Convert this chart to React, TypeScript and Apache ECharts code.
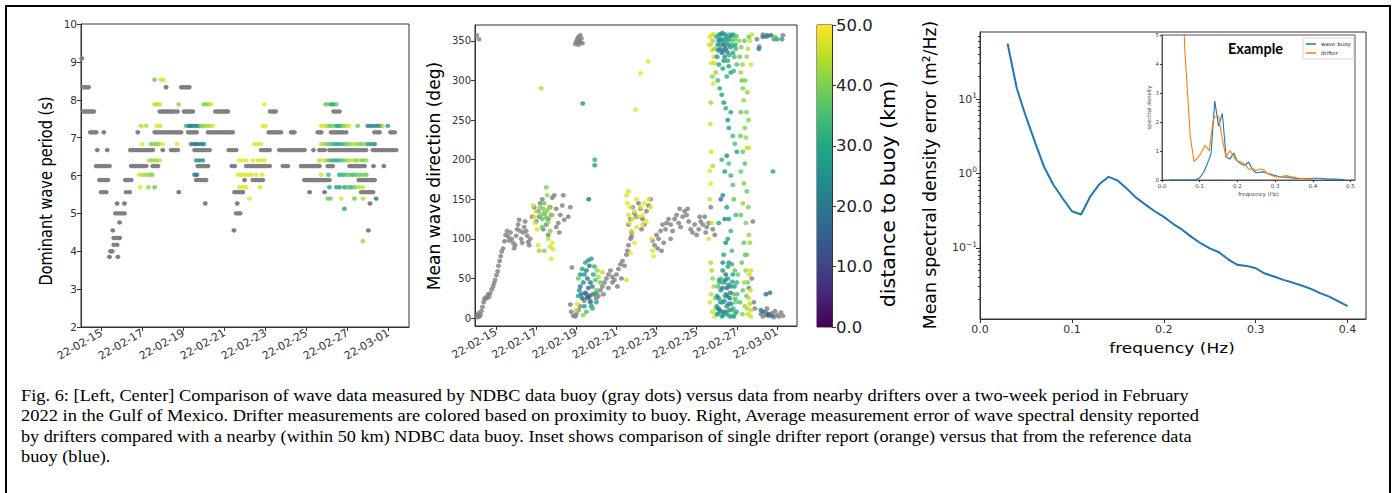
import React, { useEffect, useRef } from 'react';
import * as echarts from 'echarts';

// ---------- axis tick values / labels ----------
// time axis coordinate = days since 2022-02-13 (data arrays below are in days since 2022-02-15)
const DAY_SHIFT = 2;
const tickDays = [2, 4, 6, 8, 10, 12, 14, 16];
const dateLabels = ['22-02-15', '22-02-17', '22-02-19', '22-02-21', '22-02-23', '22-02-25', '22-02-27', '22-03-01'];
const dirTicks = [0, 50, 100, 150, 200, 250, 300, 350];
const freqTicks = [0, 0.1, 0.2, 0.3, 0.4];
const logMajorTicks = [0.1, 1, 10];
const logMinorTicks = [0.02, 0.03, 0.04, 0.05, 0.06, 0.07, 0.08, 0.09, 0.2, 0.3, 0.4, 0.5, 0.6, 0.7, 0.8, 0.9, 2, 3, 4, 5, 6, 7, 8, 9, 20, 30, 40, 50, 60, 70];
const insetFreqTicks = [0, 0.1, 0.2, 0.3, 0.4, 0.5];
const viridis = ['#440154', '#482475', '#414487', '#355f8d', '#2a788e', '#21918c', '#22a884', '#44bf70', '#7ad151', '#bddf26', '#fde725'];

// ---------- left panel: dominant wave period ----------
// buoy rows: [period (s), days since Feb 15]
const buoyPeriodRows: [number, number[]][] = [
  [9.09, [-0.96]],
  [8.33, [-0.92, -0.82, -0.72, -0.64, 3.15, 3.9, 4.0, 4.1, 4.2, 4.28]],
  [7.69, [-0.88, -0.78, -0.68, -0.58, -0.48, -0.38, 2.85, 2.95, 3.05, 3.15, 3.25, 3.35, 3.45, 3.55, 3.7, 4.03, 4.13, 4.23, 4.33, 4.45, 5.56, 5.66, 5.76, 5.86, 5.96, 6.06, 6.16, 8.23, 8.36, 8.49, 11.33, 11.45, 11.6]],
  [7.14, [-0.55, -0.45, -0.35, -0.26, 0.11, 1.77, 2.6, 2.7, 2.8, 2.9, 3.0, 3.1, 3.2, 3.3, 3.4, 3.5, 3.6, 3.7, 3.8, 3.88, 4.23, 4.33, 4.43, 4.53, 4.64, 5.2, 5.3, 5.4, 5.5, 5.6, 5.7, 5.8, 5.9, 6.0, 6.1, 6.2, 6.3, 6.4, 8.16, 8.26, 8.36, 8.46, 8.56, 8.66, 8.76, 9.25, 9.33, 9.41, 10.55, 10.65, 10.72, 11.2, 11.3, 11.4, 11.5, 11.6, 11.7, 11.8, 11.93, 13.32, 13.45, 13.56, 14.1, 14.2, 14.3]],
  [6.67, [-0.21, 0.28, 1.41, 1.5, 1.6, 1.7, 1.8, 1.9, 2.0, 2.1, 2.2, 2.3, 2.4, 2.5, 2.99, 3.4, 3.5, 3.6, 3.72, 4.54, 4.64, 4.74, 4.84, 4.94, 5.04, 5.14, 5.27, 6.21, 6.33, 6.45, 6.57, 7.79, 7.9, 8.0, 8.1, 8.2, 8.68, 8.78, 8.88, 8.98, 9.08, 9.18, 9.28, 9.38, 9.48, 9.58, 9.68, 9.78, 9.9, 10.34, 10.63, 10.75, 10.88, 11.12, 11.22, 11.32, 11.42, 11.52, 11.62, 11.72, 11.82, 11.92, 12.02, 12.12, 12.22, 12.32, 12.42, 12.52, 12.62, 12.72, 12.82, 12.9, 13.24, 13.34, 13.44, 13.54, 13.64, 13.74, 13.84, 13.94, 14.04, 14.14, 14.24, 14.37]],
  [6.25, [-0.26, -0.16, -0.06, 0.04, 0.14, 0.24, 0.39, 1.45, 1.55, 1.65, 1.75, 1.85, 1.95, 2.05, 2.18, 2.5, 2.62, 2.75, 4.7, 4.8, 4.9, 5.0, 5.1, 5.19, 6.36, 6.5, 7.06, 7.16, 7.26, 7.36, 7.46, 7.56, 7.66, 7.76, 7.86, 7.96, 8.06, 8.2, 8.85, 8.97, 9.09, 9.74, 9.84, 9.94, 10.04, 10.14, 10.24, 10.34, 10.44, 10.54, 10.63, 11.04, 11.16, 11.28, 12.1, 12.2, 12.3, 12.4, 12.5, 12.6, 12.7, 12.83, 13.27, 13.77]],
  [5.88, [-0.1, 0.0, 0.1, 0.2, 0.31, 1.17, 1.3, 1.45, 4.62, 4.74, 4.86, 4.98, 5.1, 6.98, 7.38, 7.5, 7.62, 7.74, 7.87, 9.9, 10.0, 10.1, 10.2, 10.3, 10.4, 10.5, 10.6, 10.7, 10.8, 10.9, 11.0, 11.12, 12.55, 12.65, 12.75, 12.85, 12.95, 13.05, 13.15, 13.24, 13.32]],
  [5.56, [-0.02, 0.1, 0.23, 1.2, 1.37, 3.77, 6.49, 6.6, 6.72, 6.82, 6.89, 10.15, 10.88, 12.67, 12.8, 12.92, 13.04, 13.14, 13.24]],
  [5.26, [0.76, 1.12, 5.06, 6.62, 13.1]],
  [5.0, [0.68, 0.8, 0.9, 1.0, 1.12, 6.57, 6.67, 6.76]],
  [4.76, [0.88]],
  [4.55, [0.55, 6.46, 13.02]],
  [4.35, [0.6, 0.72, 0.88]],
  [4.17, [0.6, 0.76]],
  [4.0, [0.44, 0.52]],
  [3.85, [0.39, 0.8]],
];

// drifter rows: [period (s), [day since Feb 15, distance km][]]
const drifterPeriodRows: [number, [number, number][]][] = [
  [8.53, [[2.59, 38], [2.91, 47], [3.02, 47]]],
  [7.88, [[2.59, 45], [2.7, 45], [2.83, 45], [3.76, 42], [4.98, 40], [5.11, 40], [5.24, 42], [5.35, 48], [7.95, 48], [10.93, 38], [11.04, 40], [11.2, 28], [11.33, 30], [11.45, 38]]],
  [7.31, [[1.93, 44], [2.18, 44], [2.7, 47], [2.86, 47], [4.13, 35], [4.26, 22], [4.37, 20], [4.49, 24], [4.62, 22], [4.75, 25], [4.86, 42], [4.98, 40], [5.11, 44], [5.27, 42], [5.43, 47], [7.87, 48], [8.0, 48], [10.72, 47], [10.88, 47], [11.04, 42], [11.17, 38], [11.28, 40], [11.45, 30], [11.58, 28], [11.69, 35], [11.82, 40], [11.93, 44], [12.07, 47], [12.5, 38], [12.99, 22], [13.15, 20], [13.32, 22], [13.48, 20], [13.64, 24], [13.72, 47], [13.97, 28]]],
  [6.83, [[1.97, 48], [2.42, 40], [2.55, 42], [2.67, 40], [2.8, 42], [2.99, 48], [3.69, 48], [4.37, 22], [4.5, 20], [4.62, 18], [4.75, 22], [4.88, 24], [4.99, 22], [7.46, 47], [7.63, 47], [7.79, 48], [10.72, 45], [10.88, 42], [11.04, 38], [11.2, 35], [11.37, 30], [11.53, 28], [11.69, 30], [11.85, 35], [12.02, 38], [12.18, 42], [12.34, 45], [12.5, 40], [12.67, 38], [12.83, 42], [12.99, 30], [13.15, 25], [13.32, 22]]],
  [6.4, [[2.34, 42], [2.5, 42], [2.67, 42], [2.83, 44], [4.62, 25], [4.78, 22], [4.94, 25], [6.73, 48], [6.89, 48], [7.06, 48], [7.38, 48], [7.63, 48], [7.79, 48], [7.95, 48], [10.63, 45], [10.8, 47], [10.96, 42], [11.12, 35], [11.28, 30], [11.45, 28], [11.61, 32], [11.77, 36], [11.93, 40], [12.1, 44], [12.26, 46], [12.42, 40], [12.59, 44], [12.75, 38], [12.91, 42]]],
  [6.02, [[1.85, 46], [2.02, 44], [2.18, 42], [2.34, 42], [2.47, 40], [4.54, 20], [4.65, 18], [6.65, 48], [6.81, 48], [6.98, 48], [7.14, 48], [7.3, 47], [7.54, 48], [7.84, 48], [10.72, 47], [11.07, 35], [11.61, 30], [11.77, 32], [11.93, 35], [12.1, 38], [12.26, 33], [12.42, 36], [12.59, 38], [12.75, 40], [12.91, 38]]],
  [5.69, [[1.89, 48], [2.29, 42], [2.59, 38], [6.73, 48], [6.89, 48], [7.06, 48], [7.74, 48], [11.12, 30], [11.45, 32], [11.61, 28], [11.85, 30], [12.02, 36], [12.18, 32], [12.34, 38], [12.55, 44], [12.75, 46]]],
  [5.39, [[7.22, 48], [11.04, 38], [11.17, 38], [11.69, 48], [12.34, 38], [12.75, 44], [13.4, 18]]],
  [5.12, [[11.85, 28]]],
  [4.27, [[12.75, 43]]],
];

// ---------- center panel: mean wave direction ----------
// buoy points: [day since Feb 15, deg]
const buoyDirPts: [number, number][] = [
  [-0.97, 357], [-0.85, 352],
  [-0.97, 3], [-0.92, 1], [-0.88, 6], [-0.83, 2], [-0.78, 4], [-0.73, 9], [-0.68, 14], [-0.62, 20], [-0.58, 24], [-0.52, 26], [-0.45, 25], [-0.4, 30], [-0.35, 27], [-0.3, 31], [-0.22, 36], [-0.15, 40], [-0.1, 44], [-0.05, 48], [0.02, 54], [0.08, 59], [0.12, 66], [0.18, 72], [0.23, 78], [0.28, 84], [0.35, 88], [0.42, 97], [0.48, 105], [0.55, 110], [0.6, 103], [0.65, 98], [0.72, 108], [0.78, 100], [0.85, 95], [0.9, 88], [0.95, 92], [1.0, 104], [1.05, 112], [1.1, 118], [1.15, 124], [1.2, 110], [1.25, 100], [1.3, 95], [1.35, 108], [1.4, 115], [1.45, 122], [1.5, 110], [1.55, 104], [1.6, 96], [1.65, 92], [1.7, 100],
  [1.8, 128], [1.9, 140], [2.0, 122], [2.1, 135], [2.2, 145], [2.3, 150], [2.4, 132], [2.5, 118], [2.6, 125], [2.7, 140], [2.8, 152], [2.9, 155], [3.0, 138], [3.1, 120], [3.15, 108], [3.2, 130], [3.3, 142], [3.4, 124], [2.35, 112], [2.6, 105], [3.0, 115], [2.15, 128], [2.75, 130], [3.35, 155], [3.6, 128], [3.7, 140], [3.78, 64],
  [3.95, 346], [4.0, 349], [4.05, 352], [4.1, 355], [4.15, 350], [4.2, 357], [4.25, 353], [4.3, 347], [4.1, 345], [4.2, 348],
  [3.7, 17], [3.75, 8], [3.85, 3], [3.95, 2], [4.0, 5], [4.1, 10], [4.2, 15], [4.4, 22], [4.6, 26], [4.8, 30], [5.0, 32], [5.1, 28], [5.2, 35], [5.3, 40], [5.4, 45], [5.5, 50], [5.6, 55], [5.7, 60], [5.8, 52], [5.9, 48], [6.0, 55], [6.1, 62], [6.2, 68], [6.3, 72], [6.4, 66], [6.5, 80], [6.55, 85], [6.6, 92], [6.7, 100], [6.75, 108], [4.5, 30], [4.7, 22], [5.0, 25], [5.35, 30], [5.6, 38], [5.8, 45], [6.05, 40], [6.25, 50],
  [6.6, 118], [6.7, 125], [6.8, 140], [6.9, 132], [7.0, 128], [7.1, 145], [7.2, 138], [7.3, 125], [7.4, 118], [7.5, 135], [7.6, 142], [7.7, 150], [6.75, 103], [7.25, 112],
  [7.8, 98], [7.9, 92], [8.0, 105], [8.1, 100], [8.2, 110], [8.3, 118], [8.35, 95], [8.45, 112], [8.5, 120], [8.6, 125], [8.7, 118], [8.8, 110], [8.9, 125], [9.0, 130], [9.1, 120], [9.2, 115], [9.3, 128], [9.4, 135], [9.5, 130], [9.6, 122], [9.7, 112], [9.8, 108], [9.9, 118], [10.0, 105], [10.1, 112], [10.2, 122], [10.3, 118], [10.4, 128], [10.5, 115], [10.6, 120], [10.7, 140], [10.8, 112], [10.9, 105], [8.05, 88], [8.25, 85], [8.7, 100], [9.15, 138], [9.55, 138], [10.15, 128], [10.45, 108],
  [13.0, 352], [13.3, 358], [13.5, 355], [13.85, 352], [14.3, 357], [13.12, 343],
  [13.2, 5], [13.3, 2], [13.45, 8], [13.6, 3], [13.75, 6], [13.85, 1], [14.0, 4], [14.1, 2], [14.2, 7], [14.3, 3], [13.5, 12], [13.9, 9],
  [12.8, 122], [12.75, 50], [12.6, 38], [12.85, 20], [12.9, 12],
];

// drifter points: [day since Feb 15, deg, distance km]
const drifterDirPts: [number, number, number][] = [
  [1.85, 142, 47], [1.9, 128, 47], [1.95, 120, 47], [2.0, 135, 45], [2.05, 112, 47], [2.1, 92, 47], [2.15, 85, 42], [2.2, 140, 40], [2.25, 130, 40], [2.3, 125, 38], [2.35, 138, 40], [2.4, 145, 38], [2.45, 132, 42], [2.5, 127, 38], [2.55, 136, 40], [2.6, 121, 42], [2.65, 140, 42], [2.7, 110, 40], [2.5, 165, 40], [2.55, 155, 42], [2.6, 100, 45], [2.7, 90, 47], [2.8, 95, 48], [2.85, 87, 47], [2.75, 75, 48], [2.8, 130, 42], [2.4, 85, 40], [2.3, 115, 38], [2.25, 290, 44],
  [4.0, 10, 44], [4.05, 18, 47], [4.1, 28, 30], [4.15, 35, 25], [4.2, 40, 22], [4.25, 30, 20], [4.3, 25, 18], [4.35, 45, 24], [4.4, 55, 26], [4.45, 70, 28], [4.5, 60, 22], [4.55, 50, 20], [4.6, 38, 18], [4.65, 28, 17], [4.7, 20, 22], [4.75, 15, 28], [4.8, 40, 24], [4.85, 55, 30], [4.9, 65, 32], [4.95, 48, 36], [5.0, 35, 38], [5.05, 60, 42], [5.1, 52, 44], [5.2, 45, 38], [5.3, 58, 45], [4.4, 15, 30], [4.5, 8, 35], [4.6, 73, 26], [4.75, 75, 30], [4.2, 55, 25], [4.3, 62, 28], [4.45, 32, 16], [4.55, 26, 15], [4.7, 45, 19], [4.9, 30, 28], [5.0, 20, 30], [4.1, 50, 38], [4.35, 4, 42], [4.8, 12, 33], [4.65, 66, 21],
  [4.32, 271, 26], [4.92, 200, 32], [4.92, 193, 28], [4.62, 150, 20],
  [6.5, 155, 48], [6.55, 145, 48], [6.6, 130, 47], [6.65, 120, 48], [6.7, 140, 48], [6.75, 110, 47], [6.8, 125, 48], [6.9, 135, 48], [7.0, 115, 48], [7.1, 128, 47], [7.2, 140, 48], [7.3, 130, 48], [7.4, 145, 47], [7.5, 122, 48], [7.6, 150, 48], [7.7, 140, 47], [7.75, 100, 48], [7.8, 85, 47], [7.85, 78, 48], [6.7, 82, 48], [6.5, 48, 47], [6.9, 95, 48], [7.3, 118, 48], [6.6, 160, 47], [7.0, 150, 48],
  [6.95, 263, 48], [7.2, 309, 48], [7.58, 324, 48],
  [10.65, 355, 47], [10.7, 345, 45], [10.75, 338, 47], [10.8, 350, 42], [10.85, 330, 47], [10.72, 322, 48], [10.78, 305, 42], [10.82, 296, 47], [10.7, 272, 42], [10.68, 245, 47], [10.72, 210, 47], [10.8, 192, 44], [10.65, 186, 48], [10.7, 170, 48], [10.75, 120, 47], [10.7, 70, 44], [10.75, 60, 44], [10.8, 50, 42], [10.72, 30, 45], [10.9, 2, 47], [10.95, 12, 42], [10.85, 358, 44], [10.9, 340, 40], [10.95, 310, 42], [10.92, 25, 40], [11.0, 5, 38],
  [10.62, 345, 47], [10.78, 358, 48], [10.88, 322, 46], [10.66, 20, 47], [10.78, 8, 46], [10.85, 40, 44], [10.6, 100, 47], [10.65, 150, 46],
  [11.0, 355, 30], [11.05, 345, 25], [11.1, 350, 20], [11.15, 340, 28], [11.2, 358, 22], [11.25, 335, 18], [11.3, 348, 30], [11.35, 352, 25], [11.4, 330, 26], [11.45, 340, 20], [11.5, 355, 28], [11.55, 325, 32], [11.6, 345, 24], [11.65, 358, 35], [11.1, 320, 28], [11.3, 315, 30], [11.75, 350, 36], [11.8, 335, 30], [11.9, 352, 38], [11.95, 340, 33], [12.0, 320, 36], [11.7, 310, 28], [11.5, 305, 32],
  [11.02, 330, 26], [11.08, 338, 22], [11.12, 358, 30], [11.18, 352, 24], [11.22, 345, 28], [11.28, 360, 26], [11.32, 338, 20], [11.38, 344, 16], [11.42, 358, 24], [11.48, 348, 30], [11.52, 336, 22], [11.58, 352, 26], [11.62, 332, 30], [11.68, 342, 28], [11.72, 356, 24], [11.78, 344, 32], [11.82, 358, 28], [11.88, 330, 34], [11.92, 345, 30], [11.98, 356, 36], [11.35, 325, 26], [11.6, 318, 30], [11.85, 312, 33],
  [11.05, 300, 35], [11.15, 290, 30], [11.25, 282, 28], [11.35, 272, 25], [11.45, 265, 32], [11.55, 250, 24], [11.6, 240, 28], [11.7, 260, 30], [11.8, 230, 34], [11.9, 220, 36], [12.0, 210, 30], [11.5, 205, 25], [11.6, 195, 35], [11.4, 185, 28], [11.7, 180, 33], [11.8, 168, 36], [11.3, 155, 24], [11.5, 140, 30], [11.6, 125, 27], [11.4, 125, 22], [11.7, 110, 33], [11.85, 150, 38], [11.95, 130, 34], [11.2, 150, 20], [11.55, 100, 28], [11.45, 95, 24], [11.35, 80, 30], [11.6, 70, 26], [11.75, 85, 35], [11.9, 60, 38], [11.1, 120, 30], [11.25, 200, 34],
  [11.0, 15, 30], [11.05, 5, 28], [11.1, 25, 24], [11.15, 10, 20], [11.2, 35, 26], [11.25, 2, 30], [11.3, 20, 22], [11.35, 45, 28], [11.4, 8, 18], [11.45, 30, 25], [11.5, 15, 24], [11.55, 50, 30], [11.6, 3, 32], [11.65, 25, 20], [11.7, 40, 27], [11.75, 10, 35], [11.8, 55, 30], [11.85, 30, 38], [11.9, 5, 36], [11.95, 20, 40], [12.0, 45, 33], [11.3, 60, 26], [11.5, 38, 17], [11.6, 18, 22], [11.4, 28, 35], [11.2, 50, 38], [11.7, 2, 30], [11.15, 45, 32], [11.05, 40, 36], [11.85, 2, 28], [11.45, 55, 20],
  [11.02, 28, 26], [11.08, 12, 22], [11.12, 48, 30], [11.18, 20, 28], [11.22, 8, 24], [11.28, 38, 20], [11.32, 4, 26], [11.38, 22, 30], [11.42, 48, 22], [11.48, 6, 26], [11.52, 28, 20], [11.58, 42, 24], [11.62, 10, 28], [11.68, 32, 22], [11.72, 18, 26], [11.78, 46, 30], [11.82, 12, 33], [11.88, 40, 28], [11.92, 24, 35], [11.98, 8, 30], [12.02, 30, 36], [12.05, 55, 38], [11.3, 70, 24], [11.55, 65, 28], [11.75, 68, 32],
  [12.1, 350, 40], [12.15, 330, 38], [12.2, 310, 42], [12.25, 300, 38], [12.3, 290, 40], [12.35, 275, 42], [12.2, 260, 38], [12.4, 240, 40], [12.45, 228, 42], [12.3, 210, 38], [12.5, 215, 46], [12.4, 195, 36], [12.2, 185, 38], [12.35, 170, 40], [12.5, 160, 38], [12.3, 145, 42], [12.2, 130, 38], [12.45, 120, 40], [12.6, 105, 42], [12.35, 95, 38], [12.5, 80, 40], [12.25, 70, 38], [12.45, 60, 42], [12.55, 45, 40], [12.3, 35, 38], [12.6, 25, 46], [12.4, 15, 42], [12.55, 5, 46], [12.7, 2, 46], [12.15, 20, 36], [12.65, 350, 46], [12.55, 340, 44], [12.6, 355, 38], [12.75, 358, 46], [12.7, 320, 46], [12.5, 330, 42], [12.65, 18, 44], [12.7, 10, 46], [12.6, 215, 46],
  [12.22, 342, 40], [12.28, 320, 42], [12.38, 350, 38], [12.42, 300, 40], [12.48, 260, 40], [12.52, 285, 42], [12.18, 230, 38], [12.58, 250, 40], [12.28, 5, 40], [12.38, 45, 42], [12.48, 28, 40], [12.52, 12, 44], [12.62, 55, 46], [12.68, 35, 46], [12.42, 80, 38], [12.58, 140, 40], [12.65, 95, 42], [12.7, 60, 46],
  [13.1, 340, 20], [13.3, 355, 18], [13.5, 357, 20], [13.7, 357, 16], [13.9, 355, 38], [14.0, 352, 30], [14.25, 352, 28], [13.45, 30, 18], [13.65, 32, 20], [13.3, 8, 18], [13.5, 4, 16], [13.6, 5, 18], [13.75, 3, 20], [13.2, 10, 22], [13.8, 185, 30],
];

// ---------- right panel: mean spectral density error ----------
const freqMain = [0.03, 0.04, 0.05, 0.06, 0.07, 0.08, 0.09, 0.1, 0.11, 0.12, 0.13, 0.14, 0.15, 0.16, 0.17, 0.18, 0.19, 0.2, 0.21, 0.22, 0.23, 0.24, 0.25, 0.26, 0.27, 0.28, 0.29, 0.3, 0.31, 0.32, 0.33, 0.34, 0.35, 0.36, 0.37, 0.38, 0.39, 0.4];
const errMain = [56, 14, 5.8, 2.6, 1.2, 0.7, 0.46, 0.31, 0.28, 0.49, 0.72, 0.9, 0.8, 0.62, 0.47, 0.38, 0.31, 0.26, 0.21, 0.175, 0.14, 0.115, 0.098, 0.087, 0.07, 0.059, 0.057, 0.053, 0.045, 0.041, 0.037, 0.034, 0.031, 0.028, 0.0245, 0.022, 0.019, 0.0164];

// ---------- inset: example spectra ----------
const insetFreqBuoy = [0.02, 0.03, 0.04, 0.05, 0.06, 0.07, 0.08, 0.09, 0.1, 0.11, 0.12, 0.13, 0.14, 0.15, 0.16, 0.17, 0.18, 0.19, 0.2, 0.21, 0.22, 0.23, 0.24, 0.25, 0.26, 0.27, 0.28, 0.29, 0.3, 0.31, 0.32, 0.33, 0.34, 0.35, 0.36, 0.37, 0.38, 0.39, 0.4, 0.42, 0.44, 0.46, 0.485];
const insetBuoy = [0, 0, 0, 0, 0, 0, 0, 0.01, 0.08, 0.25, 0.55, 0.9, 2.72, 1.85, 2.3, 0.8, 0.72, 0.93, 0.65, 0.55, 0.5, 0.62, 0.35, 0.25, 0.27, 0.28, 0.22, 0.2, 0.15, 0.12, 0.1, 0.1, 0.08, 0.06, 0.05, 0.05, 0.05, 0.05, 0.06, 0.06, 0.03, 0.03, 0.01];
const insetFreqDrifter = [0.05, 0.06, 0.075, 0.085, 0.1, 0.115, 0.125, 0.135, 0.14, 0.15, 0.16, 0.17, 0.18, 0.19, 0.2, 0.21, 0.22, 0.23, 0.24, 0.25, 0.26, 0.27, 0.28, 0.29, 0.3, 0.31, 0.32, 0.33, 0.34, 0.35, 0.36, 0.38, 0.4];
const insetDrifter = [9, 4.6, 1.5, 0.63, 0.85, 1.2, 1.0, 2.0, 2.2, 2.2, 1.4, 0.78, 1.02, 0.8, 0.65, 0.62, 0.55, 0.36, 0.4, 0.33, 0.38, 0.35, 0.22, 0.16, 0.12, 0.1, 0.13, 0.15, 0.12, 0.1, 0.07, 0.04, 0.02];

// ---------- caption ----------
const captionLines = [
  'Fig. 6: [Left, Center] Comparison of wave data measured by NDBC data buoy (gray dots) versus data from nearby drifters over a two-week period in February',
  '2022 in the Gulf of Mexico. Drifter measurements are colored based on proximity to buoy. Right, Average measurement error of wave spectral density reported',
  'by drifters compared with a nearby (within 50 km) NDBC data buoy. Inset shows comparison of single drifter report (orange) versus that from the reference data',
  'buoy (blue).',
];
const captionRightEdge = [1188, 1200, 1192, 0]; // 0 = not justified

const FONT = 'DejaVu Sans';
const AX = '#333';
const CAP_FONT_SIZE = 18.3;
const CAP_FONT = 'Liberation Serif';

function dateFmt(v: number) {
  const i = tickDays.indexOf(Math.round(v));
  return i >= 0 ? dateLabels[i] : '';
}

function supFmt(v: number) {
  const e = Math.round(Math.log10(v));
  const s = e < 0 ? '\u2212' + String(-e) : String(e);
  return '{b|10}{s|' + s + '}';
}

function measureText(t: string, size: number, family: string) {
  const ctx = document.createElement('canvas').getContext('2d');
  if (!ctx) return 0;
  ctx.font = `${size}px "${family}"`;
  return ctx.measureText(t).width;
}

function buildOption() {
  const buoyPeriodData: number[][] = [];
  buoyPeriodRows.forEach(([p, days]) => days.forEach((d) => buoyPeriodData.push([d + DAY_SHIFT, p])));
  const drifterPeriodData: number[][] = [];
  drifterPeriodRows.forEach(([p, pts]) => pts.forEach(([d, km]) => drifterPeriodData.push([d + DAY_SHIFT, p, km])));
  const buoyDirData = buoyDirPts.map(([d, a]) => [d + DAY_SHIFT, a]);
  const drifterDirData = drifterDirPts.map(([d, a, km]) => [d + DAY_SHIFT, a, km]);

  const gradient = new echarts.graphic.LinearGradient(0, 1, 0, 0,
    viridis.map((c, i) => ({ offset: i / (viridis.length - 1), color: c })));

  const gridBase = { show: true, borderColor: AX, borderWidth: 1, backgroundColor: 'transparent', containLabel: false, outerBoundsMode: 'none' };

  const tick = (vals: number[] | null, len = 4) => ({
    show: true, length: len, lineStyle: { color: AX, width: 1 }, ...(vals ? { customValues: vals } : {}),
  });
  const axLine = () => ({ show: true, onZero: false, lineStyle: { color: AX, width: 1 } });

  const dateAxis = (grid: number, min: number, max: number) => ({
    type: 'value', gridIndex: grid, min, max,
    axisLine: axLine(), splitLine: { show: false },
    axisTick: tick(tickDays),
    axisLabel: { customValues: tickDays, rotate: 30, fontSize: 11, color: AX, margin: 5, fontFamily: FONT, formatter: dateFmt },
  });

  const captionGraphics = captionLines.map((t, i) => {
    let sx = 1;
    if (captionRightEdge[i] > 0) {
      const w = measureText(t, CAP_FONT_SIZE, CAP_FONT);
      if (w > 0) sx = (captionRightEdge[i] - 21) / w;
      if (sx > 1.12 || sx < 0.88) sx = 1;
    }
    return {
      type: 'text', x: 21, y: 395 + i * 20.5, scaleX: sx, scaleY: 0.92,
      style: { text: t, fontSize: CAP_FONT_SIZE, fontFamily: CAP_FONT, fill: '#000', align: 'left', verticalAlign: 'middle' },
    };
  });

  return {
    animation: false,
    backgroundColor: '#fff',
    textStyle: { fontFamily: FONT },
    grid: [
      { ...gridBase, left: 81, top: 24, width: 328, height: 303 },
      { ...gridBase, left: 475, top: 25, width: 322, height: 301 },
      { ...gridBase, left: 817, top: 25, width: 15, height: 302 },
      { ...gridBase, left: 980, top: 32, width: 386, height: 287 },
      { ...gridBase, left: 1162, top: 35, width: 193, height: 145, borderColor: '#555', backgroundColor: '#fff' },
    ],
    xAxis: [
      dateAxis(0, 1, 17),
      dateAxis(1, 0.95, 17),
      { type: 'category', gridIndex: 2, data: ['c'], show: false },
      {
        type: 'value', gridIndex: 3, min: 0, max: 0.42,
        axisLine: axLine(), splitLine: { show: false },
        axisTick: tick(freqTicks),
        axisLabel: { customValues: freqTicks, fontSize: 11, color: AX, margin: 5, formatter: (v: number) => v.toFixed(1) },
      },
      {
        type: 'value', gridIndex: 4, min: 0, max: 0.512,
        axisLine: { ...axLine(), lineStyle: { color: '#555', width: 1 } }, splitLine: { show: false },
        axisTick: tick(insetFreqTicks, 2),
        axisLabel: { customValues: insetFreqTicks, fontSize: 5.5, color: '#444', margin: 3, formatter: (v: number) => v.toFixed(1) },
        name: 'frequency (Hz)', nameLocation: 'middle', nameGap: 11, nameTextStyle: { fontSize: 5.5, color: '#444' },
      },
    ],
    yAxis: [
      {
        type: 'value', gridIndex: 0, min: 2, max: 10, interval: 1,
        axisLine: axLine(), splitLine: { show: false },
        axisTick: tick(null),
        axisLabel: { fontSize: 10.5, color: AX, margin: 4 },
      },
      {
        type: 'value', gridIndex: 1, min: -10, max: 370,
        axisLine: axLine(), splitLine: { show: false },
        axisTick: tick(dirTicks),
        axisLabel: { customValues: dirTicks, fontSize: 10, color: AX, margin: 4 },
      },
      {
        type: 'value', gridIndex: 2, min: 0, max: 50, interval: 10, position: 'right',
        axisLine: axLine(), splitLine: { show: false },
        axisTick: tick(null, 4),
        axisLabel: { fontSize: 16.5, color: '#222', margin: 4, formatter: (v: number) => v.toFixed(1) },
      },
      {
        type: 'log', gridIndex: 3, min: 0.011, max: 80, position: 'left',
        axisLine: axLine(), splitLine: { show: false },
        axisTick: tick(logMajorTicks, 4),
        axisLabel: {
          customValues: logMajorTicks, color: AX, margin: 3, formatter: supFmt,
          rich: { b: { fontSize: 11, color: AX }, s: { fontSize: 7.5, color: AX, padding: [0, 0, 7, 0] } },
        },
      },
      {
        type: 'log', gridIndex: 3, min: 0.011, max: 80, position: 'left',
        axisLine: { show: false, onZero: false }, splitLine: { show: false },
        axisTick: tick(logMinorTicks, 2),
        axisLabel: { show: false },
      },
      {
        type: 'value', gridIndex: 4, min: 0, max: 5, interval: 1,
        axisLine: { ...axLine(), lineStyle: { color: '#555', width: 1 } }, splitLine: { show: false },
        axisTick: tick(null, 2),
        axisLabel: { fontSize: 5.5, color: '#444', margin: 3 },
        name: 'spectral density', nameLocation: 'middle', nameGap: 9, nameTextStyle: { fontSize: 5.5, color: '#444' },
      },
    ],
    visualMap: {
      type: 'continuous', show: false, min: 0, max: 50, dimension: 2, seriesIndex: [1, 3],
      inRange: { color: viridis },
    },
    legend: {
      data: ['wave buoy', 'drifter'], left: 1303, top: 38, orient: 'vertical', icon: 'rect',
      itemWidth: 10, itemHeight: 1.5, itemGap: 3, padding: [3, 3, 3, 3],
      borderColor: '#ccc', borderWidth: 0.8, borderRadius: 1,
      textStyle: { fontSize: 5.5, color: '#333' },
    },
    series: [
      { type: 'scatter', xAxisIndex: 0, yAxisIndex: 0, data: buoyPeriodData, symbolSize: [5, 4.4], itemStyle: { color: '#808080', opacity: 1 }, silent: true },
      { type: 'scatter', xAxisIndex: 0, yAxisIndex: 0, data: drifterPeriodData, symbolSize: [5, 4.4], encode: { x: 0, y: 1 }, silent: true },
      { type: 'scatter', xAxisIndex: 1, yAxisIndex: 1, data: buoyDirData, symbolSize: [5, 4.6], itemStyle: { color: '#808080' }, silent: true },
      { type: 'scatter', xAxisIndex: 1, yAxisIndex: 1, data: drifterDirData, symbolSize: [5, 4.6], encode: { x: 0, y: 1 }, silent: true },
      { type: 'bar', xAxisIndex: 2, yAxisIndex: 2, data: [50], barWidth: '100%', itemStyle: { color: gradient }, silent: true },
      {
        type: 'line', xAxisIndex: 3, yAxisIndex: 3, data: freqMain.map((f, i) => [f, errMain[i]]),
        showSymbol: false, symbol: 'none', lineStyle: { color: '#1f77b4', width: 2 }, silent: true,
      },
      {
        name: 'wave buoy', type: 'line', xAxisIndex: 4, yAxisIndex: 5, data: insetFreqBuoy.map((f, i) => [f, insetBuoy[i]]),
        symbol: 'none', color: '#1f77b4', lineStyle: { color: '#1f77b4', width: 1.1 }, silent: true,
      },
      {
        name: 'drifter', type: 'line', xAxisIndex: 4, yAxisIndex: 5, data: insetFreqDrifter.map((f, i) => [f, insetDrifter[i]]),
        symbol: 'none', color: '#ff7f0e', lineStyle: { color: '#ff7f0e', width: 1.1 }, silent: true, clip: true,
      },
    ],
    graphic: [
      { type: 'line', shape: { x1: 5, y1: 6, x2: 1391, y2: 6 }, style: { stroke: '#000', lineWidth: 2 } },
      { type: 'line', shape: { x1: 6, y1: 5, x2: 6, y2: 493 }, style: { stroke: '#000', lineWidth: 2 } },
      { type: 'line', shape: { x1: 1390, y1: 5, x2: 1390, y2: 493 }, style: { stroke: '#000', lineWidth: 2 } },
      { type: 'text', x: 46, y: 191, rotation: Math.PI / 2, scaleX: 0.81, style: { text: 'Dominant wave period (s)', fontSize: 18, fontFamily: FONT, fill: '#000', align: 'center', verticalAlign: 'middle' } },
      { type: 'text', x: 434, y: 176, rotation: Math.PI / 2, scaleX: 0.95, style: { text: 'Mean wave direction (deg)', fontSize: 18, fontFamily: FONT, fill: '#000', align: 'center', verticalAlign: 'middle' } },
      { type: 'text', x: 888, y: 194, rotation: Math.PI / 2, scaleX: 1.03, style: { text: 'distance to buoy (km)', fontSize: 20, fontFamily: FONT, fill: '#000', align: 'center', verticalAlign: 'middle' } },
      { type: 'text', x: 930, y: 175, rotation: Math.PI / 2, scaleX: 0.96, style: { text: 'Mean spectral density error (m\u00b2/Hz)', fontSize: 18, fontFamily: FONT, fill: '#000', align: 'center', verticalAlign: 'middle' } },
      { type: 'text', x: 1172, y: 348, scaleY: 0.85, style: { text: 'frequency (Hz)', fontSize: 17, fontFamily: FONT, fill: '#000', align: 'center', verticalAlign: 'middle' } },
      { type: 'text', x: 1228, y: 48, style: { text: 'Example', fontSize: 14.5, fontWeight: 'bold', fontFamily: 'Lato', fill: '#000', align: 'left', verticalAlign: 'middle' } },
      ...captionGraphics,
    ],
  };
}

export default function App() {
  const ref = useRef<HTMLDivElement>(null);
  useEffect(() => {
    if (!ref.current) return;
    const chart = echarts.init(ref.current, undefined, { renderer: 'svg' });
    chart.setOption(buildOption() as any);
    return () => chart.dispose();
  }, []);
  return <div ref={ref} style={{ position: 'absolute', left: 0, top: 0, width: 1400, height: 493 }} />;
}
